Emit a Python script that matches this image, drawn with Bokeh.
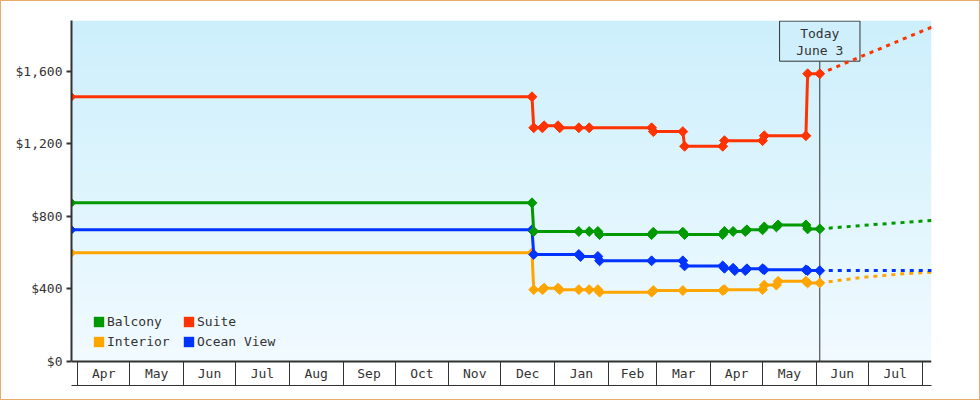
import numpy as np
from datetime import date
from bokeh.plotting import figure
from bokeh.models import Range1d, FixedTicker, LinearAxis, Legend, LegendItem
from bokeh.core.properties import value
from bokeh.embed import file_html
from bokeh.resources import INLINE

# ---------------- data ----------------
suite_dates = ["2022-03-28", "2022-12-19", "2022-12-20", "2022-12-25", "2022-12-26", "2023-01-03",
               "2023-01-04", "2023-01-15", "2023-01-21", "2023-02-26", "2023-02-27", "2023-03-16",
               "2023-03-17", "2023-04-08", "2023-04-09", "2023-05-01", "2023-05-02", "2023-05-26",
               "2023-05-27", "2023-06-03"]
suite_prices = [1459, 1459, 1288, 1288, 1299, 1299, 1288, 1288, 1288, 1288, 1267, 1267,
                1186, 1186, 1217, 1217, 1244, 1244, 1586, 1586]

balcony_dates = ["2022-03-28", "2022-12-19", "2022-12-20", "2023-01-15", "2023-01-21", "2023-01-26",
                 "2023-01-27", "2023-02-26", "2023-02-27", "2023-03-16", "2023-03-17", "2023-04-08",
                 "2023-04-09", "2023-04-14", "2023-04-21", "2023-04-22", "2023-05-01", "2023-05-02",
                 "2023-05-09", "2023-05-10", "2023-05-26", "2023-05-27", "2023-06-03"]
balcony_prices = [874, 874, 716, 716, 716, 716, 699, 699, 712, 712, 699, 699,
                  716, 716, 716, 725, 725, 741, 741, 752, 752, 730, 730]

ocean_dates = ["2022-03-28", "2022-12-19", "2022-12-20", "2023-01-15", "2023-01-16", "2023-01-26",
               "2023-01-27", "2023-02-26", "2023-03-16", "2023-03-17", "2023-04-08", "2023-04-09",
               "2023-04-14", "2023-04-15", "2023-04-21", "2023-04-22", "2023-05-01", "2023-05-02",
               "2023-05-26", "2023-05-27", "2023-06-03"]
ocean_prices = [725, 725, 589, 589, 578, 578, 554, 554, 554, 526, 526, 513,
                513, 500, 500, 510, 510, 504, 504, 500, 500]

interior_dates = ["2022-03-28", "2022-12-19", "2022-12-20", "2022-12-25", "2022-12-26", "2023-01-03",
                  "2023-01-04", "2023-01-15", "2023-01-21", "2023-01-26", "2023-01-27", "2023-02-26",
                  "2023-02-27", "2023-03-16", "2023-04-08", "2023-04-09", "2023-05-01", "2023-05-02",
                  "2023-05-09", "2023-05-10", "2023-05-26", "2023-05-27", "2023-06-03"]
interior_prices = [598, 598, 395, 395, 403, 403, 395, 395, 395, 395, 381, 381,
                   390, 390, 390, 395, 395, 420, 420, 441, 441, 432, 432]

# forecasts (dotted)
suite_fc_dates = ["2023-06-03", "2023-08-07"]
suite_fc_prices = [1586, 1845]
balcony_fc_dates = ["2023-06-03", "2023-07-01", "2023-08-07"]
balcony_fc_prices = [730, 752, 777]
ocean_fc_dates = ["2023-06-03", "2023-08-07"]
ocean_fc_prices = [500, 500]
interior_fc_dates = ["2023-06-03", "2023-06-28", "2023-07-21", "2023-08-07"]
interior_fc_prices = [432, 463, 482, 491]

month_labels = ["Apr", "May", "Jun", "Jul", "Aug", "Sep", "Oct", "Nov", "Dec",
                "Jan", "Feb", "Mar", "Apr", "May", "Jun", "Jul"]
first_month = (2022, 4)
y_ticks = [0, 400, 800, 1200, 1600]
y_tick_labels = ["$0", "$400", "$800", "$1,200", "$1,600"]
today_date = "2023-06-03"
today_label = ["Today", "June 3"]

series_names = ["Balcony", "Suite", "Interior", "Ocean View"]
series_colors = ["#009900", "#ff3300", "#ffa500", "#0033ff"]

# ---------------- helpers ----------------
BASE = date(2022, 4, 1)


def dnum(s):
    y, m, dd = map(int, s.split("-"))
    return float((date(y, m, dd) - BASE).days)


FONT = "DejaVu Sans Mono"
TXT = "#333333"
X_START, X_END = -3.63, 492.45
Y_START, Y_END = -134, 1880
PX_PER_DAY = 860.0 / (X_END - X_START)
PX_PER_USD = 365.0 / (Y_END - Y_START)

# 978x398 plot placed 1px in, with a 1px outline around it -> 980x400 overall
p = figure(width=978, height=398, output_backend="svg", toolbar_location=None,
           x_range=Range1d(X_START, X_END), y_range=Range1d(Y_START, Y_END),
           min_border_left=70, min_border_right=48, min_border_top=19, min_border_bottom=14,
           styles={"margin": "1px", "outline": "1px solid #e8ab6a"})
p.background_fill_color = "white"
p.border_fill_color = "white"
p.outline_line_color = None
p.grid.visible = False

# background gradient (from $0 up to top)
n = 300
img = np.empty((n, 1), dtype=np.uint32)
view = img.view(dtype=np.uint8).reshape((n, 1, 4))
top_c = np.array([204, 239, 252])
bot_c = np.array([241, 250, 255])
for i in range(n):
    t = i / (n - 1)
    c = bot_c + (top_c - bot_c) * t
    view[i, 0, 0] = int(round(c[0]))
    view[i, 0, 1] = int(round(c[1]))
    view[i, 0, 2] = int(round(c[2]))
    view[i, 0, 3] = 255
p.image_rgba(image=[img], x=X_START, y=0, dw=X_END - X_START, dh=Y_END, level="image")

# y axis
ya = p.yaxis[0]
ya.ticker = FixedTicker(ticks=y_ticks)
ya.major_label_overrides = {float(v): lab for v, lab in zip(y_ticks, y_tick_labels)}
ya.bounds = (0, Y_END)
ya.axis_line_color = TXT
ya.axis_line_width = 2
ya.major_tick_line_color = TXT
ya.major_tick_line_width = 2
ya.major_tick_out = 5
ya.major_tick_in = 0
ya.minor_tick_line_color = None
ya.major_label_standoff = 4
ya.major_label_text_font = FONT
ya.major_label_text_font_size = "13px"
ya.major_label_text_color = TXT

# bottom x axis: only the bottom line of the month band
bx = p.xaxis[0]
bx.ticker = FixedTicker(ticks=[])
bx.major_tick_line_color = None
bx.minor_tick_line_color = None
bx.major_label_text_font_size = "0px"
bx.major_tick_out = 0
bx.major_label_standoff = 0
bx.axis_line_color = TXT
bx.axis_line_width = 1

# month band axis at $0
starts = []
yy, mm = first_month
for k in range(len(month_labels) + 1):
    starts.append(float((date(yy, mm, 1) - BASE).days))
    mm += 1
    if mm > 12:
        mm = 1
        yy += 1
mids = [(starts[k] + starts[k + 1]) / 2.0 for k in range(len(month_labels))]
max_ = LinearAxis(fixed_location=0,
                  ticker=FixedTicker(ticks=mids, minor_ticks=starts),
                  major_label_overrides={m: lab for m, lab in zip(mids, month_labels)},
                  axis_line_color=TXT, axis_line_width=2,
                  major_tick_out=0, major_tick_in=0, major_tick_line_color=None,
                  minor_tick_out=24, minor_tick_in=0, minor_tick_line_color=TXT, minor_tick_line_width=1,
                  major_label_standoff=-19, major_label_text_font=FONT,
                  major_label_text_font_size="13px", major_label_text_color=TXT)
p.add_layout(max_, "below")

# today marker
td = dnum(today_date)
box_half = 40.2 / PX_PER_DAY
box_bottom = Y_END - 40.7 / PX_PER_USD
box_top = Y_END - 0.6 / PX_PER_USD
p.segment(x0=[td], y0=[0], x1=[td], y1=[box_bottom], line_color=TXT, line_width=1)
p.quad(left=[td - box_half], right=[td + box_half], bottom=[box_bottom], top=[box_top],
       fill_color="#cfeffc", line_color=TXT, line_width=1)
p.text(x=[td, td], y=[Y_END - 12.5 / PX_PER_USD, Y_END - 30.0 / PX_PER_USD], text=today_label,
       text_align="center", text_baseline="middle", text_font=value(FONT),
       text_font_size="13px", text_color=TXT)

# series
all_series = {
    "Balcony": (balcony_dates, balcony_prices, balcony_fc_dates, balcony_fc_prices),
    "Suite": (suite_dates, suite_prices, suite_fc_dates, suite_fc_prices),
    "Interior": (interior_dates, interior_prices, interior_fc_dates, interior_fc_prices),
    "Ocean View": (ocean_dates, ocean_prices, ocean_fc_dates, ocean_fc_prices),
}
draw_order = ["Interior", "Ocean View", "Balcony", "Suite"]
for name in draw_order:
    c = series_colors[series_names.index(name)]
    ds, ps, fds, fps = all_series[name]
    xs = [dnum(s) for s in ds]
    fxs = [dnum(s) for s in fds]
    p.line(fxs, fps, line_color=c, line_width=3, line_dash="4 5")
    p.line(xs, ps, line_color=c, line_width=3)
    p.scatter(xs, ps, marker="square", angle=np.pi / 4, size=7, fill_color=c, line_color=c, line_width=1)

# legend with square swatches (swatch renderers sit outside the visible range)
items = []
for name, c in zip(series_names, series_colors):
    r = p.quad(left=[X_START - 20], right=[X_START - 10], bottom=[0], top=[1],
               fill_color=c, line_color=None)
    items.append(LegendItem(label=name, renderers=[r]))
legend = Legend(items=items, orientation="horizontal", ncols=2, location=(21, 36),
                background_fill_alpha=0, border_line_alpha=0, padding=0, margin=0, spacing=4,
                glyph_width=13, glyph_height=13, label_standoff=2, label_width=71, label_height=16,
                label_text_font=FONT, label_text_font_size="13px", label_text_color=TXT)
p.add_layout(legend, "center")

open("out.html", "w").write(file_html(p, INLINE))
